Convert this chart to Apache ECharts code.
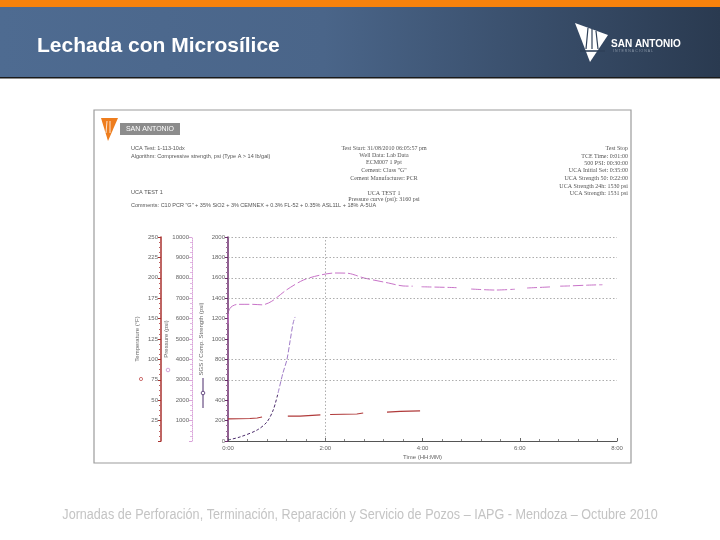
<!DOCTYPE html>
<html><head><meta charset="utf-8">
<script src="https://cdn.jsdelivr.net/npm/echarts@6/dist/echarts.min.js"></script>
<style>html,body{margin:0;padding:0;background:#fff}#c{width:720px;height:540px}</style>
</head><body><div id="c"></div>
<script>
// ---- data ----
const timeTickLabels = ['0:00', '2:00', '4:00', '6:00', '8:00'];
const strengthTime = [0.0, 0.04, 0.2, 0.5, 0.7, 0.9, 1.2, 1.55, 1.9, 2.2, 2.45, 2.8, 3.3, 3.6, 3.8, null, 3.98, 4.6, 4.7, null, 5.0, 5.5, 5.9, null, 6.15, 6.6, 6.67, null, 6.83, 7.0, 7.4, 7.7];
const strengthPsi  = [1150, 1300, 1340, 1340, 1335, 1370, 1480, 1578, 1627, 1647, 1645, 1598, 1549, 1520, 1518, null, 1512, 1505, 1503, null, 1490, 1480, 1488, null, 1500, 1510, 1512, null, 1518, 1520, 1528, 1532];
const sgsTime = [0.0, 0.25, 0.6, 0.8, 0.93, 1.03, 1.13, 1.21, 1.28, 1.34, 1.38];
const sgsPsi  = [10, 40, 108, 186, 304, 471, 667, 794, 990, 1157, 1216];
const tempTime = [0.0, 0.45, 0.6, 0.7, null, 1.23, 1.48, 1.52, 1.9, null, 2.1, 2.65, 2.78, null, 3.27, 3.54, 3.95];
const tempF    = [27.0, 27.6, 28.2, 29.4, null, 30.6, 30.6, 31.9, 31.9, null, 32.5, 33.1, 34.3, null, 35.5, 36.2, 36.8];
const gridValues = [2000, 1800, 1600, 1400, 800, 600];
const verticalGridTimes = [2];

const pair = (xs, ys) => xs.map((x, i) => (x === null ? [null, null] : [x, ys[i]]));
const sgsSplit = 5;

const chart = echarts.init(document.getElementById('c'), null, {renderer: 'canvas'});
const lab = {fontSize: 6, color: '#666', fontFamily: 'Liberation Sans', formatter: v => String(v)};
const nameStyle = {fontSize: 6, color: '#666', fontFamily: 'Liberation Sans'};
const small = (t, x, y, align, serif) => ({
  type: 'text', x: x, y: y,
  style: {text: t, fill: '#555', font: (serif ? '6px "Liberation Serif"' : '5.5px "Liberation Sans"'), textAlign: align, verticalAlign: 'middle', textVerticalAlign: 'middle'}
});

const option = {
  animation: false,
  backgroundColor: '#ffffff',
  grid: {left: 228, right: 103, top: 237, bottom: 99, containLabel: false},
  xAxis: {
    type: 'value', min: 0, max: 8, interval: 2,
    axisLine: {show: true, lineStyle: {color: '#555', width: 1}},
    axisTick: {show: true, inside: true, length: 3, lineStyle: {color: '#666'}},
    minorTick: {show: true, splitNumber: 5, length: 2, lineStyle: {color: '#888'}},
    splitLine: {show: false},
    axisLabel: {...lab, formatter: v => timeTickLabels[Math.round(v / 2)], margin: 4},
    name: 'Time (HH:MM)', nameLocation: 'middle', nameGap: 13, nameTextStyle: nameStyle, nameMoveOverlap: false
  },
  yAxis: [
    {
      type: 'value', position: 'left', offset: 0, min: 0, max: 2000, interval: 200,
      axisLine: {show: true, lineStyle: {color: '#6b2a6b', width: 1.5}},
      axisTick: {show: true, length: 3, lineStyle: {color: '#6b2a6b'}},
      minorTick: {show: true, splitNumber: 4, length: 2, lineStyle: {color: '#9a6a9a'}},
      splitLine: {show: false},
      axisLabel: {...lab, margin: 3},
      name: 'SGS / Comp. Strength (psi)', nameLocation: 'middle', nameRotate: 90, nameGap: 24, nameTextStyle: nameStyle, nameMoveOverlap: false
    },
    {
      type: 'value', position: 'left', offset: 36, min: 0, max: 10000, interval: 1000,
      axisLine: {show: true, lineStyle: {color: '#d9a3d9', width: 1, type: 'dotted'}},
      axisTick: {show: true, length: 3, lineStyle: {color: '#d9a3d9'}},
      minorTick: {show: true, splitNumber: 4, length: 2, lineStyle: {color: '#e2b8e2'}},
      splitLine: {show: false},
      axisLabel: {...lab, margin: 3, showMinLabel: false},
      name: 'Pressure (psi)', nameLocation: 'middle', nameRotate: 90, nameGap: 23, nameTextStyle: nameStyle, nameMoveOverlap: false
    },
    {
      type: 'value', position: 'left', offset: 67, min: 0, max: 250, interval: 25,
      axisLine: {show: true, lineStyle: {color: '#a8322f', width: 1.5}},
      axisTick: {show: true, length: 3, lineStyle: {color: '#a8322f'}},
      minorTick: {show: true, splitNumber: 4, length: 2, lineStyle: {color: '#c06060'}},
      splitLine: {show: false},
      axisLabel: {...lab, margin: 3, showMinLabel: false},
      name: 'Temperature (°F)', nameLocation: 'middle', nameRotate: 90, nameGap: 21, nameTextStyle: nameStyle, nameMoveOverlap: false
    }
  ],
  series: [
    {
      type: 'line', name: 'Strength', yAxisIndex: 0, showSymbol: false, connectNulls: false, smooth: 0.3,
      data: pair(strengthTime, strengthPsi),
      lineStyle: {color: '#c873c8', width: 1, type: [10, 3]},
      z: 3,
      markLine: {
        silent: true, symbol: 'none', label: {show: false},
        lineStyle: {color: '#8a8a8a', width: 0.7, type: [1.5, 2]},
        data: gridValues.map(v => ({yAxis: v})).concat(verticalGridTimes.map(t => ({xAxis: t})))
      }
    },
    {
      type: 'line', name: 'SGS low', yAxisIndex: 0, showSymbol: false, smooth: 0.3,
      data: pair(sgsTime.slice(0, sgsSplit + 1), sgsPsi.slice(0, sgsSplit + 1)),
      lineStyle: {color: '#4b2b6b', width: 1, type: [3, 2]}, z: 4
    },
    {
      type: 'line', name: 'SGS high', yAxisIndex: 0, showSymbol: false, smooth: 0.3,
      data: pair(sgsTime.slice(sgsSplit), sgsPsi.slice(sgsSplit)),
      lineStyle: {color: '#a07cc8', width: 1, type: [5, 2]}, z: 4
    },
    {
      type: 'line', name: 'Temperature', yAxisIndex: 2, showSymbol: false, connectNulls: false,
      data: pair(tempTime, tempF),
      lineStyle: {color: '#b03a3a', width: 1.2}, z: 3
    }
  ],
  graphic: {elements: [
    // slide header
    {type: 'rect', shape: {x: 0, y: 0, width: 720, height: 7}, style: {fill: '#f7820c'}},
    {type: 'rect', shape: {x: 0, y: 7, width: 720, height: 70},
     style: {fill: new echarts.graphic.LinearGradient(0, 0, 1, 0, [{offset: 0, color: '#4e6b91'}, {offset: 0.45, color: '#4a6589'}, {offset: 1, color: '#2a3a50'}])}},
    {type: 'rect', shape: {x: 0, y: 77, width: 720, height: 1.5}, style: {fill: '#1a1a1a'}},
    {type: 'text', x: 37, y: 46, style: {text: 'Lechada con Microsílice', fill: '#ffffff', font: 'bold 21px "Liberation Sans"', verticalAlign: 'middle', textVerticalAlign: 'middle'}},
    // header logo
    {type: 'polygon', shape: {points: [[575, 23], [608, 35], [590, 62]]}, style: {fill: '#ffffff'}},
    {type: 'polyline', shape: {points: [[588, 28], [586, 49]]}, style: {stroke: '#2f4058', lineWidth: 1.2}},
    {type: 'polyline', shape: {points: [[592, 29], [592, 49]]}, style: {stroke: '#2f4058', lineWidth: 1.2}},
    {type: 'polyline', shape: {points: [[596, 31], [598, 49]]}, style: {stroke: '#2f4058', lineWidth: 1.2}},
    {type: 'polyline', shape: {points: [[580, 51], [605, 51]]}, style: {stroke: '#2f4058', lineWidth: 1.6}},
    {type: 'text', x: 611, y: 44, style: {text: 'SAN ANTONIO', fill: '#ffffff', font: 'bold 10px "Liberation Sans"', verticalAlign: 'middle', textVerticalAlign: 'middle'}},
    {type: 'text', x: 613, y: 51, style: {text: 'I N T E R N A C I O N A L', fill: '#8a97a8', font: '3.5px "Liberation Sans"', verticalAlign: 'middle', textVerticalAlign: 'middle'}},
    // report frame
    {type: 'rect', shape: {x: 94, y: 110, width: 537, height: 353}, style: {fill: 'none', stroke: '#9c9c9c', lineWidth: 1.2}},
    // report logo
    {type: 'polygon', shape: {points: [[101, 118], [118, 118], [108, 141]]}, style: {fill: '#ee7d1d'}},
    {type: 'polyline', shape: {points: [[107, 121], [106, 133]]}, style: {stroke: '#ffffff', lineWidth: 0.8}},
    {type: 'polyline', shape: {points: [[110, 121], [110, 133]]}, style: {stroke: '#ffffff', lineWidth: 0.8}},
    {type: 'rect', shape: {x: 120, y: 123, width: 60, height: 12}, style: {fill: '#8c8c8c'}},
    {type: 'text', x: 150, y: 129, style: {text: 'SAN ANTONIO', fill: '#ffffff', font: '7px "Liberation Sans"', textAlign: 'center', verticalAlign: 'middle', textVerticalAlign: 'middle'}},
    // report header text
    small('UCA Test: 1-113-10dx', 131, 148, 'left'),
    small('Algorithm: Compressive strength, psi (Type A > 14 lb/gal)', 131, 156, 'left'),
    small('UCA TEST 1', 131, 192, 'left'),
    small('Comments: C10 PCR "G" + 35% SiO2 + 3% CEMNEX + 0.3% FL-52 + 0.35% ASL11L + 18% A-5UA', 131, 205, 'left'),
    small('Test Start: 31/08/2010 06:05:57 pm', 384, 148, 'center', true),
    small('Well Data: Lab Data', 384, 155, 'center', true),
    small('ECM007 1 Ppt', 384, 162, 'center', true),
    small('Cement: Class "G"', 384, 170, 'center', true),
    small('Cement Manufacturer: PCR', 384, 178, 'center', true),
    small('UCA TEST 1', 384, 193, 'center', true),
    small('Pressure curve (psi): 3160 psi', 384, 199, 'center', true),
    small('Test Stop', 628, 148, 'right', true),
    small('TCE Time: 0:01:00', 628, 156, 'right', true),
    small('500 PSI: 00:30:00', 628, 163, 'right', true),
    small('UCA Initial Set: 0:35:00', 628, 170, 'right', true),
    small('UCA Strength 50: 0:22:00', 628, 178, 'right', true),
    small('UCA Strength 24h: 1530 psi', 628, 186, 'right', true),
    small('UCA Strength: 1531 psi', 628, 193, 'right', true),
    // axis legend markers
    {type: 'circle', shape: {cx: 141, cy: 379, r: 1.6}, style: {fill: 'none', stroke: '#c05050', lineWidth: 0.8}},
    {type: 'circle', shape: {cx: 168, cy: 370, r: 1.8}, style: {fill: 'none', stroke: '#c890d0', lineWidth: 0.8}},
    {type: 'polyline', shape: {points: [[203, 378], [203, 408]]}, style: {stroke: '#4b2b6b', lineWidth: 1}},
    {type: 'circle', shape: {cx: 203, cy: 393, r: 1.8}, style: {fill: '#ffffff', stroke: '#4b2b6b', lineWidth: 0.8}},
    // footer
    {type: 'text', x: 360, y: 515, scaleX: 0.9, originX: 0, originY: 0,
     style: {text: 'Jornadas de Perforación, Terminación, Reparación y Servicio de Pozos – IAPG - Mendoza – Octubre 2010', fill: '#c4c4c4', font: '14px "Liberation Sans"', textAlign: 'center', verticalAlign: 'middle', textVerticalAlign: 'middle'}}
  ]}
};
chart.setOption(option);
</script>
</body></html>
